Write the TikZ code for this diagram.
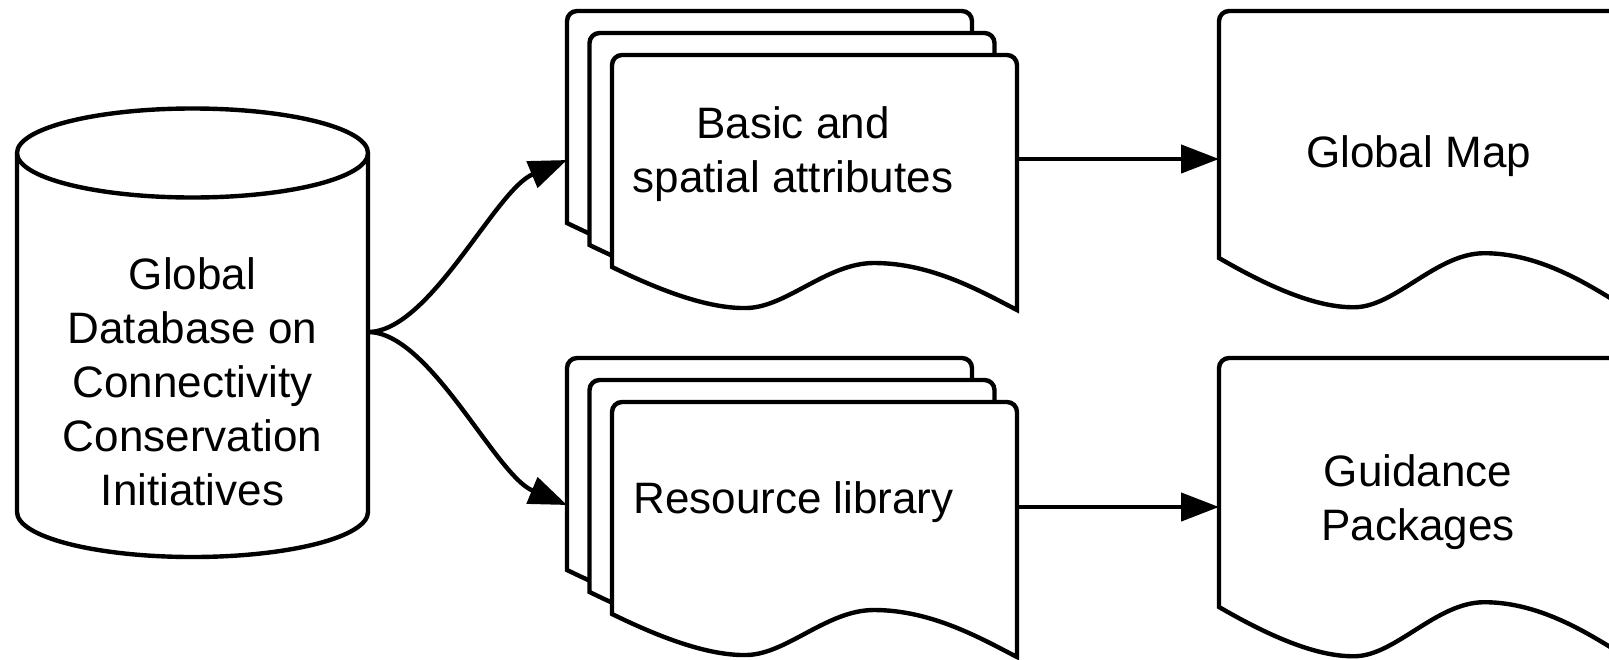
\documentclass[tikz,border=0pt]{standalone}
\usepackage{fontspec}
\setmainfont{Liberation Sans}
\usetikzlibrary{arrows.meta}
% #1,#2 = top-left corner, #3 = width, #4 = height of left side, #5 = wave depth factor
\newcommand\docsheet[5]{%
  \begin{scope}[shift={(#1,#2)}, xscale=#3/405]
    \draw[sheet] (0,#4) -- (0,10) .. controls (0,4.5) and (4.5,0) .. (10,0)
      -- (395,0) .. controls (400.5,0) and (405,4.5) .. (405,10)
      -- (405,{#4+43*#5})
      .. controls (370,{#4+25*#5}) and (320,{#4-4*#5}) .. (262,{#4-4*#5})
      .. controls (215,{#4-4*#5}) and (175,{#4+40*#5}) .. (135,{#4+41*#5})
      .. controls (95,{#4+42*#5}) and (45,{#4+22*#5}) .. (0,#4) -- cycle;
  \end{scope}}
\tikzset{
  sheet/.style={draw=black, fill=white, line width=4.4pt, line join=miter},
  arr/.style={line width=4.4pt, -{Triangle[length=38pt,width=28pt]}},
  txt/.style={inner sep=0pt, align=center, anchor=base,
    font=\fontsize{44}{54}\selectfont}
}
\begin{document}
\begin{tikzpicture}[x=1pt,y=-1pt]
\useasboundingbox (0,0) rectangle (1609,659);
\fill[white] (0,0) rectangle (1609,659);
\clip (0,0) rectangle (1609,659);

% cylinder
\draw[sheet] (17,153) -- (17,512) arc[start angle=180, end angle=0, x radius=175.5, y radius=45] -- (368,153);
\draw[sheet] (192.5,153) ellipse[x radius=175.5, y radius=44.5];
% base anchor of a multi-line node = baseline of its last line
\node[txt] (cylT) at (192.5,505) {Global\\Database on\\Connectivity\\Conservation\\Initiatives};

% top stack
\docsheet{567}{11}{405}{212}{1}
\docsheet{589.5}{33}{405}{212}{1}
\docsheet{612}{55}{405}{212}{1}
\node[txt] (basicT) at (793,192) {Basic and\\spatial attributes};

% bottom stack
\docsheet{567}{358}{405}{212}{1}
\docsheet{589.5}{380}{405}{212}{1}
\docsheet{612}{402}{405}{212}{1}
\node[txt] (resT) at (793.5,513) {Resource library};

% outputs
\docsheet{1219}{11}{410}{247}{1.2}
\node[txt] (mapT) at (1418.5,167) {Global Map};
\docsheet{1219}{358}{410}{249}{1.2}
\node[txt] (guideT) at (1418,540) {Guidance\\Packages};

% connector ends
\coordinate (cylE) at (368,332);
\coordinate (basicW) at (567,160);
\coordinate (resW) at (567,505);
\coordinate (basicE) at (1017,159);
\coordinate (resE) at (1017,507);
\coordinate (mapW) at (1219,159);
\coordinate (guideW) at (1219,507);

\draw[arr] (cylE) .. controls (430,332) and (495,190) .. (basicW);
\draw[arr] (cylE) .. controls (430,332) and (495,475) .. (resW);
\draw[arr] (basicE) -- (mapW);
\draw[arr] (resE) -- (guideW);
\end{tikzpicture}
\end{document}
